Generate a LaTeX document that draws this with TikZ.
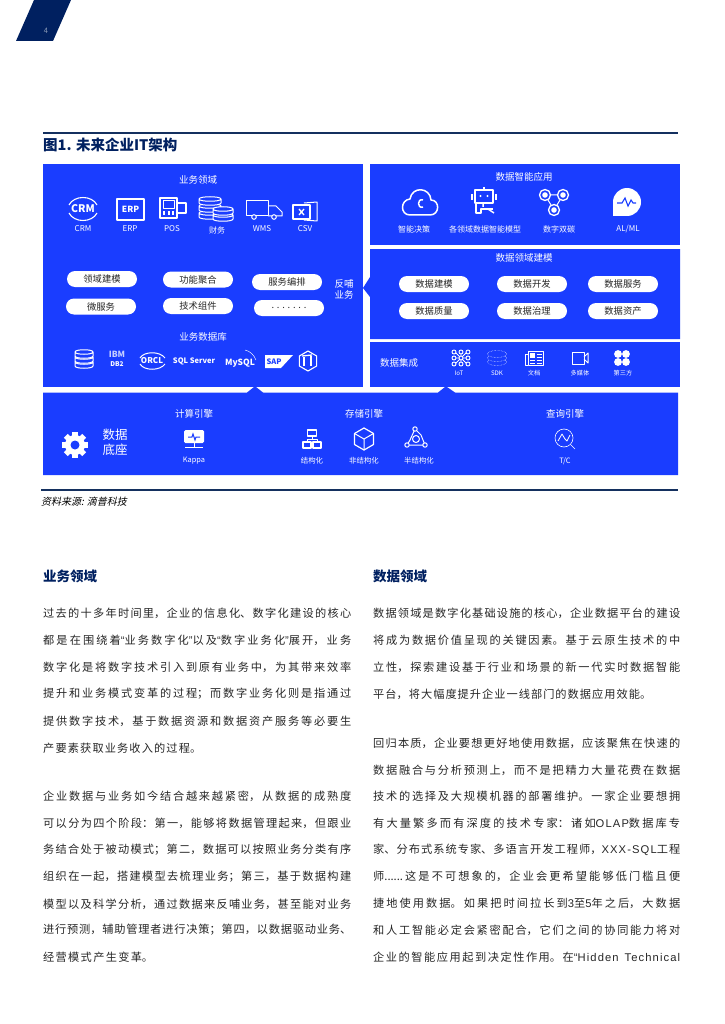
\documentclass[tikz,border=0pt]{standalone}
\usepackage{fontspec}
\usepackage{xcolor}
\usetikzlibrary{shapes.misc,shapes.geometric}
\setmainfont{Noto Sans CJK SC}
\newfontfamily\slantf[FakeSlant=0.22]{Noto Sans CJK SC}
\newfontfamily\latinf{Liberation Sans}
\newfontfamily\latinw[LetterSpace=10]{Liberation Sans}
\XeTeXlinebreaklocale "zh"
\XeTeXlinebreakskip=0pt plus 2pt minus 0.3pt

\definecolor{navy}{HTML}{002060}
\definecolor{rulenavy}{HTML}{14305F}
\definecolor{panelblue}{HTML}{1A3DFF}
\definecolor{textdark}{HTML}{262626}

\newcommand{\fsz}[1]{\fontsize{#1}{#1}\selectfont}
\newcommand{\qopen}{{\latinf “}}
\newcommand{\qclose}{{\latinf ”}}
\newcommand{\jline}[2][308]{\vbox{\hsize=#1pt \parindent=0pt \parfillskip=0pt \tolerance=9999 \hbadness=10000 #2\par}}
\newcommand{\dbslice}[3]{%
    \begin{scope}[shift={(#1,#2)}]
        \draw[iconline,fill=panelblue] ({-#3},-4) -- ({-#3},0) .. controls ({-#3},3) and (#3,3) .. (#3,0) -- (#3,-4)
            .. controls (#3,-7) and ({-#3},-7) .. ({-#3},-4) .. controls ({-#3},-1) and (#3,-1) .. (#3,-4);
    \end{scope}}

\tikzset{
    panel/.style={fill=panelblue},
    iconline/.style={draw=white, line width=1pt, line join=round},
    thinline/.style={draw=white, line width=0.45pt},
    pill/.style={rounded rectangle, fill=white, minimum width=70pt, minimum height=16pt, inner sep=0pt, text=textdark, font=\fsz{9.3}},
    paneltitle/.style={text=white, inner sep=0pt, font=\fsz{9.5}},
    iconlabel/.style={text=white, inner sep=0pt, font=\fsz{8}},
    lowlabel/.style={text=white, inner sep=0pt, font=\fsz{7.4}},
    tinylabel/.style={text=white, inner sep=0pt, font=\fsz{6.2}},
    logotext/.style={text=white, inner sep=0pt, font=\bfseries\fsz{#1}},
    bodyl/.style={anchor=west, inner sep=0pt, text=textdark, font=\fsz{11.2}},
    heading/.style={anchor=west, inner sep=0pt, text=navy, font=\bfseries\fsz{13.5}}
}

\begin{document}
\begin{tikzpicture}[x=1pt,y=-1pt]
    \useasboundingbox (0,0) rectangle (724,1024);

    % Cabecera de la pagina
    \fill[navy] (34,0) -- (71,0) -- (53,41) -- (16,41) -- cycle;
    \node[text=navy!45!white, inner sep=0pt, font=\fsz{7.5}] (pagenum) at (46,31) {4};
    \draw[rulenavy, line width=1.3pt] (43,133) -- (678,133);
    \node[anchor=west, inner sep=0pt, text=navy, font=\bfseries\fsz{14.5}] (figtitle) at (43,145) {图1. 未来企业IT架构};

    % Paneles azules
    \fill[panel] (43,164) rectangle (363,387);
    \fill[panel] (370,164) rectangle (680,245);
    \fill[panel] (370,249) -- (680,249) -- (680,339) -- (370,339) -- (370,297) -- (363,288) -- (370,277) -- cycle;
    \fill[panel] (370,342) rectangle (680,387);
    \fill[panel] (43,392.5) -- (247,392.5) -- (254,387) -- (256,387) -- (263,392.5) -- (438,392.5) -- (445,387)
        -- (447,387) -- (455,392.5) -- (678,392.5) -- (678,475) -- (43,475) -- cycle;

    % Dominio de negocio
    \node[paneltitle] (bizdomain) at (198,180) {业务领域};
    % CRM
    \draw[iconline, line width=1.1pt] (69,205) .. controls (74,195) and (92,195) .. (97,205);
    \draw[iconline, line width=1.1pt] (69,213) .. controls (74,223) and (92,223) .. (97,213);
    \node[logotext=10.5] (crmlogo) at (83,209) {CRM};
    \node[iconlabel] (crmlabel) at (83,229) {CRM};
    % ERP
    \draw[iconline, line width=1.1pt] (117,199) rectangle (144,220);
    \node[logotext=8.5] (erplogo) at (130.5,209.5) {ERP};
    \node[iconlabel] (erplabel) at (130,229) {ERP};
    % POS
    \draw[iconline, line width=1.2pt] (160,198) rectangle (177,218);
    \draw[iconline] (163,201) rectangle (174,209);
    \foreach \px in {164,168.5,173} {
        \fill[white] (\px-1,211.5) rectangle (\px+1,215);
    }
    \draw[iconline, line width=1.2pt] (177,203) -- (186,203) -- (186,213) -- (177,213);
    \node[iconlabel] (poslabel) at (172,229) {POS};
    % Finanzas
    \dbslice{210}{217}{11}
    \dbslice{210}{210}{11}
    \dbslice{210}{203}{11}
    \dbslice{223}{219}{10}
    \dbslice{223}{213}{10}
    \node[iconlabel] (finlabel) at (217,230) {财务};
    % WMS
    \draw[iconline] (246,201) rectangle (268,216);
    \draw[iconline] (268,206) -- (276,206) -- (282,212) -- (282,216) -- (268,216);
    \draw[iconline, fill=panelblue] (254,217) circle (2.3);
    \draw[iconline, fill=panelblue] (274,217) circle (2.3);
    \node[iconlabel] (wmslabel) at (262,229) {WMS};
    % CSV
    \draw[iconline] (304,203) -- (317,202) -- (317,221) -- (304,220);
    \draw[iconline, fill=panelblue, line width=1.2pt] (293,205) rectangle (310,219);
    \draw[white, line width=1.3pt] (299,209) -- (304,215) (304,209) -- (299,215);
    \node[iconlabel] (csvlabel) at (305,229) {CSV};

    % Capsulas de negocio
    \node[pill] (domainmodel) at (102,279) {领域建模};
    \node[pill] (funcjoin) at (198,279.5) {功能聚合};
    \node[pill] (orchestrate) at (287,282) {服务编排};
    \node[pill] (microsrv) at (101,306.5) {微服务};
    \node[pill] (techpart) at (198,306) {技术组件};
    \node[pill] (dots) at (289,308) {. . . . . . .};
    \node[text=white, inner sep=0pt, align=center, font=\fsz{9.5}] (feedback) at (344,289) {反哺\\[1.5pt]业务};

    % Bases de datos de negocio
    \node[paneltitle] (bizdb) at (203,337) {业务数据库};
    \dbslice{84}{366}{9}
    \dbslice{84}{361}{9}
    \dbslice{84}{356}{9}
    \node[logotext=8.5, text=white!75!panelblue] (ibmlogo) at (117,354) {IBM};
    \node[logotext=6.5] (db2logo) at (117,364.5) {DB2};
    \draw[iconline] (140,358) .. controls (144,351) and (160,351) .. (165,358);
    \draw[iconline] (140,364) .. controls (144,371) and (160,371) .. (165,364);
    \node[logotext=8] (orcllogo) at (152,361) {ORCL};
    \node[logotext=7.5] (sqlserver) at (194,361.5) {SQL Server};
    \node[logotext=8.5] (mysqllogo) at (240,363) {MySQL};
    \draw[thinline] (245,350) .. controls (250,351) and (254,355) .. (256,360);
    \fill[white] (265,355) -- (293,355) -- (281,368) -- (265,368) -- cycle;
    \node[logotext=7.5, text=panelblue] (saplogo) at (274,361.5) {SAP};
    \node[draw=white, line width=1.1pt, regular polygon, regular polygon sides=6, rotate=30, minimum size=20pt, inner sep=0pt] (tihex) at (308,361) {};
    \draw[white, line width=2pt] (304,357) -- (304,366);
    \draw[white, line width=2pt] (311,356) -- (311,366);
    \draw[white, line width=1.3pt] (302,356) -- (312,355);

    % Aplicaciones inteligentes
    \node[paneltitle] (appstitle) at (524,177) {数据智能应用};
    % Nube
    \begin{scope}[shift={(420,203)}]
        \draw[iconline, line width=1.5pt] (-10,12) -- (10,12) .. controls (20,12) and (20,-3) .. (11,-3)
            .. controls (10,-16) and (-8,-17) .. (-10,-4) .. controls (-20,-3) and (-20,12) .. (-10,12) -- cycle;
        \draw[iconline, line width=1.5pt] (3,-3) .. controls (-3,-5) and (-3,6) .. (3,4);
    \end{scope}
    \node[iconlabel] (smartlabel) at (414,229) {智能决策};
    % Robot
    \begin{scope}[shift={(484,202)}]
        \draw[iconline, line width=1.5pt] (-9,-12) rectangle (9,1);
        \fill[white] (-3.5,-6) circle (1.2) (3.5,-6) circle (1.2);
        \draw[white, line width=1.6pt] (-12,-8) -- (-12,-2) (12,-8) -- (12,-2) (0,-15) -- (0,-12);
        \draw[iconline, line width=1.5pt] (-8,1) -- (-8,11) -- (-3,11) -- (-3,7) -- (9,7);
        \draw[white, line width=1.5pt] (-1,1) -- (-1,5) (4,7) -- (10,11);
    \end{scope}
    \node[iconlabel] (modellabel) at (485,229) {各领域数据智能模型};
    % Red triangular
    \begin{scope}[shift={(554,202)}]
        \draw[iconline] (-9,-7) -- (9,-7) -- (0,8) -- cycle;
        \foreach \cx/\cy in {-9/-7,9/-7,0/8} {
            \draw[iconline, line width=1.3pt, fill=panelblue] (\cx,\cy) circle (5.5);
            \fill[white] (\cx,\cy) circle (2.8);
        }
    \end{scope}
    \node[iconlabel] (twinlabel) at (559,229) {数字双碳};
    % Burbuja AL/ML
    \begin{scope}[shift={(627,202)}]
        \fill[white] (0,0) circle (14);
        \fill[white] (-14,0) -- (-14,14) -- (0,14) -- cycle;
        \draw[panelblue, line width=1.1pt] (-10,1) -- (-5,1) -- (-2,-4) -- (1,4) -- (4,-2) -- (6,1) -- (9,1);
    \end{scope}
    \node[iconlabel] (aimllabel) at (628,229) {AL/ML};

    % Modelado de dominios
    \node[paneltitle] (modeltitle) at (524,258) {数据领域建模};
    \node[pill] (datamodel) at (434,284) {数据建模};
    \node[pill] (datadev) at (532,284) {数据开发};
    \node[pill] (datasrv) at (623,284) {数据服务};
    \node[pill] (dataqual) at (434,311) {数据质量};
    \node[pill] (datagov) at (532,311) {数据治理};
    \node[pill] (dataasset) at (623,311) {数据资产};

    % Integracion de datos
    \node[paneltitle] (integtitle) at (399,363) {数据集成};
    % IoT
    \begin{scope}[shift={(461,358)}]
        \draw[white, line width=0.9pt] (-6,-6) -- (6,6) (-6,6) -- (6,-6) (-6,0) -- (6,0) (0,-6) -- (0,6);
        \foreach \cx in {-7,0,7} {
            \foreach \cy in {-6,0,6} {
                \draw[white, line width=0.9pt, fill=panelblue] (\cx,\cy) circle (2);
            }
        }
    \end{scope}
    \node[tinylabel] (iotlabel) at (459,373) {IoT};
    % SDK
    \begin{scope}[shift={(497,358)}]
        \foreach \cy in {4,0,-4} {
            \draw[thinline, densely dotted, fill=panelblue] (0,\cy) ellipse (9.5 and 3.5);
        }
    \end{scope}
    \node[tinylabel] (sdklabel) at (497,373) {SDK};
    % Documento
    \begin{scope}[shift={(534,358)}]
        \draw[iconline] (-6,-7) rectangle (9,7);
        \draw[iconline] (-6,-4) -- (-9,-4) -- (-9,7) -- (-6,7);
        \fill[white] (-4,-5) rectangle (1,0);
        \foreach \ly in {-4,-1,2,5} {
            \draw[white, line width=0.8pt] (2.5,\ly) -- (7.5,\ly);
        }
        \draw[white, line width=0.8pt] (-4,2) -- (1,2) (-4,5) -- (1,5);
    \end{scope}
    \node[tinylabel] (doclabel) at (534,373) {文档};
    % Multimedia
    \draw[iconline] (572,352) rectangle (584,364);
    \draw[iconline] (584,357) -- (588,353) -- (588,363) -- (584,359);
    \node[tinylabel] (medialabel) at (580,373) {多媒体};
    % Terceros
    \foreach \cx/\cy in {-4/-4,4/-4,-4/4,4/4} {
        \fill[white] (622+\cx,358+\cy) circle (3.9);
    }
    \node[tinylabel] (thirdlabel) at (623,373) {第三方};

    % Base de datos inferior
    \begin{scope}[shift={(75,445)}]
        \foreach \a in {0,45,90,135} {
            \fill[white, rotate=\a] (-2.8,-13) rectangle (2.8,13);
        }
        \fill[white] (0,0) circle (10);
        \fill[panelblue] (0,0) circle (4.5);
    \end{scope}
    \node[text=white, inner sep=0pt, font=\fsz{12.5}] (basetop) at (115,435) {数据};
    \node[text=white, inner sep=0pt, font=\fsz{12.5}] (basebottom) at (115,450) {底座};

    % Motores
    \node[paneltitle] (comptitle) at (194,414) {计算引擎};
    \node[paneltitle] (storetitle) at (364,414) {存储引擎};
    \node[paneltitle] (querytitle) at (565,414) {查询引擎};
    % Monitor
    \begin{scope}[shift={(194,438)}]
        \fill[white, rounded corners=1.5pt] (-10,-8) rectangle (10,5);
        \draw[panelblue, line width=1pt] (-6,-1) -- (-2,-1) -- (-1,-4) -- (1,2) -- (2,-1) -- (6,-1);
        \draw[white, line width=1pt] (-9,9) -- (9,9) (0,5) -- (0,9);
    \end{scope}
    \node[lowlabel] (kappalabel) at (194,461) {Kappa};
    % Organigrama
    \begin{scope}[shift={(312,439)}]
        \draw[iconline, line width=1.2pt] (-4.5,-9) rectangle (4.5,-3);
        \draw[iconline, line width=1.2pt] (-9,3) rectangle (-1,9);
        \draw[iconline, line width=1.2pt] (1,3) rectangle (9,9);
        \draw[iconline] (0,-3) -- (0,0) (-5,3) -- (-5,0) -- (5,0) -- (5,3);
    \end{scope}
    \node[lowlabel] (structlabel) at (312,461) {结构化};
    % Cubo
    \begin{scope}[shift={(364,439)}]
        \draw[iconline, line width=1.2pt] (0,-11) -- (9.5,-5.5) -- (9.5,5.5) -- (0,11) -- (-9.5,5.5) -- (-9.5,-5.5) -- cycle;
        \draw[iconline] (-9.5,-5.5) -- (0,0) -- (9.5,-5.5) (0,0) -- (0,11);
    \end{scope}
    \node[lowlabel] (unstructlabel) at (364,461) {非结构化};
    % Grafo semiestructurado
    \begin{scope}[shift={(416,438)}]
        \draw[iconline] (-1,-9) -- (-6,2) -- (-9,7) -- (9,7) -- (5,-3) -- (-1,-9);
        \draw[iconline, fill=panelblue] (-1,-9) circle (2.2) (-9,7) circle (2.2) (9,7) circle (2.2);
        \draw[iconline] (0,1) circle (3.5);
    \end{scope}
    \node[lowlabel] (semilabel) at (419,461) {半结构化};
    % Lupa
    \begin{scope}[shift={(564,438)}]
        \draw[thinline, line width=0.6pt] (0,0) circle (9);
        \draw[thinline, line width=0.6pt] (6.5,6.5) -- (11,11);
        \draw[iconline, line width=0.8pt] (-6,3) -- (-2,-4) -- (1,1) -- (3,3) -- (6,-3);
    \end{scope}
    \node[lowlabel] (tclabel) at (565,461) {T/C};

    % Fuente
    \draw[rulenavy, line width=1.3pt] (41,490) -- (678,490);
    \node[anchor=west, inner sep=0pt, text=black, font=\slantf\fsz{10}] (source) at (41,502) {资料来源: 滴普科技};

    % Columna izquierda
    \node[heading] (leftheading) at (43,576) {业务领域};
    \node[bodyl] (la1) at (43,613) {\jline{过去的十多年时间里，企业的信息化、数字化建设的核心}};
    \node[bodyl] (la2) at (43,640) {\jline{都是在围绕着\qopen 业务数字化\qclose 以及\qopen 数字业务化\qclose 展开，业务}};
    \node[bodyl] (la3) at (43,667) {\jline{数字化是将数字技术引入到原有业务中，为其带来效率}};
    \node[bodyl] (la4) at (43,694) {\jline{提升和业务模式变革的过程；而数字业务化则是指通过}};
    \node[bodyl] (la5) at (43,721) {\jline{提供数字技术，基于数据资源和数据资产服务等必要生}};
    \node[bodyl] (la6) at (43,748) {\jline[158]{产要素获取业务收入的过程。}};

    \node[bodyl] (lb1) at (43,796) {\jline{企业数据与业务如今结合越来越紧密，从数据的成熟度}};
    \node[bodyl] (lb2) at (43,823) {\jline{可以分为四个阶段：第一，能够将数据管理起来，但跟业}};
    \node[bodyl] (lb3) at (43,850) {\jline{务结合处于被动模式；第二，数据可以按照业务分类有序}};
    \node[bodyl] (lb4) at (43,877) {\jline{组织在一起，搭建模型去梳理业务；第三，基于数据构建}};
    \node[bodyl] (lb5) at (43,904) {\jline{模型以及科学分析，通过数据来反哺业务，甚至能对业务}};
    \node[bodyl] (lb6) at (43,930) {\jline{进行预测，辅助管理者进行决策；第四，以数据驱动业务、}};
    \node[bodyl] (lb7) at (43,957) {\jline[110]{经营模式产生变革。}};

    % Columna derecha
    \node[heading] (rightheading) at (373,576) {数据领域};
    \node[bodyl] (ra1) at (373,613) {\jline[307]{数据领域是数字化基础设施的核心，企业数据平台的建设}};
    \node[bodyl] (ra2) at (373,640) {\jline[307]{将成为数据价值呈现的关键因素。基于云原生技术的中}};
    \node[bodyl] (ra3) at (373,667) {\jline[307]{立性，探索建设基于行业和场景的新一代实时数据智能}};
    \node[bodyl] (ra4) at (373,694) {\jline[278]{平台，将大幅度提升企业一线部门的数据应用效能。}};

    \node[bodyl] (rb1) at (373,743) {\jline[307]{回归本质，企业要想更好地使用数据，应该聚焦在快速的}};
    \node[bodyl] (rb2) at (373,770) {\jline[307]{数据融合与分析预测上，而不是把精力大量花费在数据}};
    \node[bodyl] (rb3) at (373,796) {\jline[307]{技术的选择及大规模机器的部署维护。一家企业要想拥}};
    \node[bodyl] (rb4) at (373,823) {\jline[307]{有大量繁多而有深度的技术专家：诸如{\latinw OLAP}数据库专}};
    \node[bodyl] (rb5) at (373,850) {\jline[307]{家、分布式系统专家、多语言开发工程师，{\latinw XXX-SQL}工程}};
    \node[bodyl] (rb6) at (373,876) {\jline[307]{师......这是不可想象的，企业会更希望能够低门槛且便}};
    \node[bodyl] (rb7) at (373,903) {\jline[307]{捷地使用数据。如果把时间拉长到{\latinw 3}至{\latinw 5}年之后，大数据}};
    \node[bodyl] (rb8) at (373,930) {\jline[307]{和人工智能必定会紧密配合，它们之间的协同能力将对}};
    \node[bodyl] (rb9) at (373,957) {\jline[307]{企业的智能应用起到决定性作用。在\qopen{\latinw Hidden Technical}}};

\end{tikzpicture}
\end{document}
